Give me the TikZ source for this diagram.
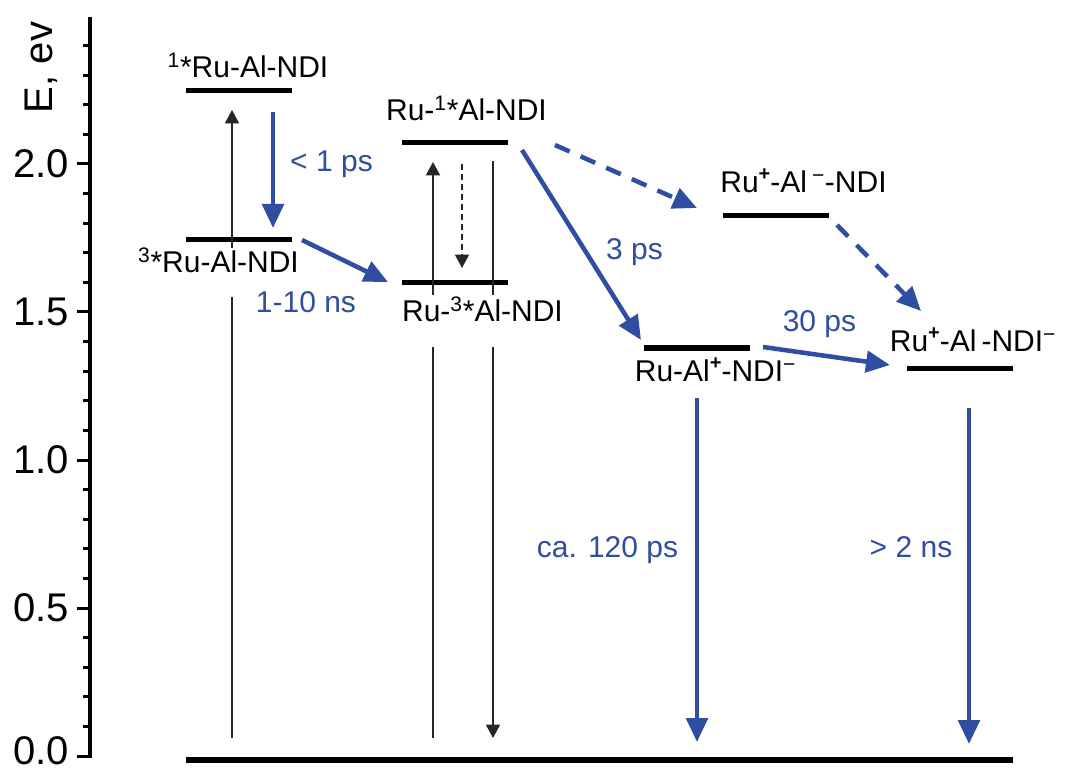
\documentclass[tikz,border=0pt]{standalone}
\usepackage{fontspec}
\setmainfont{Liberation Sans}
\usetikzlibrary{arrows.meta}
\definecolor{eblue}{RGB}{47,78,162}
\newcommand\supplus{\raisebox{9.5pt}{\fontsize{15}{15}\selectfont\bfseries +}}
\begin{document}
\begin{tikzpicture}[x=0.75pt,y=-0.75pt,
  level/.style={fill=black,draw=none,inner sep=0pt,minimum width=79.5pt,minimum height=3.75pt},
  groundlvl/.style={fill=black,draw=none,inner sep=0pt,minimum width=620.25pt,minimum height=4.5pt},
  lbl/.style={font=\fontsize{22.5}{27}\selectfont,inner sep=0pt,anchor=base},
  blbl/.style={lbl,text=eblue},
  tlbl/.style={font=\fontsize{30}{36}\selectfont,inner sep=0pt,anchor=east},
  tickln/.style={line width=2.25pt},
  thinln/.style={line width=1.1pt,draw=black!85},
  thinarr/.style={thinln,-{Triangle[width=10.5pt,length=10pt]}},
  barr/.style={line width=3.4pt,draw=eblue,-{Triangle[width=16pt,length=18pt]}},
  bdash/.style={barr,dash pattern=on 12pt off 9pt},
]
\path[fill=white] (0,0) rectangle (1065,770);
\useasboundingbox (0,0) rectangle (1065,770);

% axis
\coordinate (axb) at (90,757.5);
\coordinate (axt) at (90,17);
\draw[line width=2.4pt] (axb) -- (axt);
\foreach \i in {0,...,24}{
  \pgfmathtruncatemacro\m{mod(\i,5)}
  \pgfmathsetmacro\yy{756-29.6*\i}
  \ifnum\m=0
    \draw[tickln] (77,\yy) -- (90,\yy);
  \else
    \draw[tickln] (83,\yy) -- (90,\yy);
  \fi
}
\node[tlbl] (t0) at (69,751) {0.0};
\node[tlbl] (t1) at (69,608) {0.5};
\node[tlbl] (t2) at (69,460) {1.0};
\node[tlbl] (t3) at (69,312) {1.5};
\node[tlbl] (t4) at (69,164) {2.0};
\node[font=\fontsize{30}{36}\selectfont,rotate=90,anchor=base,inner sep=0pt] (ylab) at (52,67.5) {E, ev};

% levels
\node[level] (S1) at (239,91) {};
\node[level] (T1) at (239,240) {};
\node[level] (S2) at (455,143) {};
\node[level] (T2) at (455,283) {};
\node[level] (CSa) at (776,216) {};
\node[level] (CSb) at (697,348) {};
\node[level] (CSc) at (960,368) {};
\node[groundlvl] (G) at (599.5,760) {};

% level labels
\node[lbl] (lS1) at (248,78) {\textsuperscript{1}*Ru-Al-NDI};
\node[lbl] (lT1) at (218.5,273) {\textsuperscript{3}*Ru-Al-NDI};
\node[lbl] (lS2) at (466.5,121) {Ru-\textsuperscript{1}*Al-NDI};
\node[lbl] (lT2) at (482.5,322) {Ru-\textsuperscript{3}*Al-NDI};
\node[lbl] (lCSa) at (803.5,193) {Ru\supplus-Al\,\textsuperscript{−}-NDI};
\node[lbl] (lCSb) at (715.5,382) {Ru-Al\supplus-NDI\textsuperscript{−}};
\node[lbl] (lCSc) at (973,352) {Ru\supplus-Al\,-NDI\textsuperscript{−}};

% rate labels
\node[blbl] (k1) at (331.5,172) {< 1 ps};
\node[blbl] (k2) at (306,313) {1-10 ns};
\node[blbl] (k3) at (634.5,260) {3 ps};
\node[blbl] (k4) at (819.5,332) {30 ps};
\node[blbl] (k5) at (607.5,557) {ca. 120 ps};
\node[blbl] (k6) at (911,557) {> 2 ns};

% thin black arrows
\coordinate (a1b) at (232,738); \coordinate (a1g) at (232,297);
\coordinate (a1h) at (232,248); \coordinate (a1t) at (232,110);
\draw[thinln] (a1b) -- (a1g);
\draw[thinarr] (a1h) -- (a1t);

\coordinate (a2b) at (433,738); \coordinate (a2g) at (433,347);
\coordinate (a2h) at (433,295); \coordinate (a2t) at (433,162);
\draw[thinln] (a2b) -- (a2g);
\draw[thinarr] (a2h) -- (a2t);

\coordinate (a3s) at (493,161); \coordinate (a3h) at (493,295);
\coordinate (a3g) at (493,347); \coordinate (a3t) at (493,738);
\draw[thinln] (a3s) -- (a3h);
\draw[thinarr] (a3g) -- (a3t);

\coordinate (a4s) at (462,164); \coordinate (a4t) at (462,268);
\draw[thinarr,dash pattern=on 4.5pt off 3pt] (a4s) -- (a4t);

% blue arrows
\coordinate (b1s) at (273,112); \coordinate (b1t) at (273,228);
\coordinate (b2s) at (302,240); \coordinate (b2t) at (388,282);
\coordinate (b3s) at (522,150); \coordinate (b3t) at (641,340);
\coordinate (b4s) at (763,347); \coordinate (b4t) at (890,365);
\coordinate (b5s) at (697,398); \coordinate (b5t) at (697,742);
\coordinate (b6s) at (969,408); \coordinate (b6t) at (969,744);
\coordinate (d1s) at (555,145); \coordinate (d1t) at (697,208);
\coordinate (d2s) at (837,225); \coordinate (d2t) at (921,311);
\draw[barr] (b1s) -- (b1t);
\draw[barr] (b2s) -- (b2t);
\draw[barr] (b3s) -- (b3t);
\draw[barr] (b4s) -- (b4t);
\draw[barr] (b5s) -- (b5t);
\draw[barr] (b6s) -- (b6t);
\draw[bdash] (d1s) -- (d1t);
\draw[bdash] (d2s) -- (d2t);
\end{tikzpicture}
\end{document}
